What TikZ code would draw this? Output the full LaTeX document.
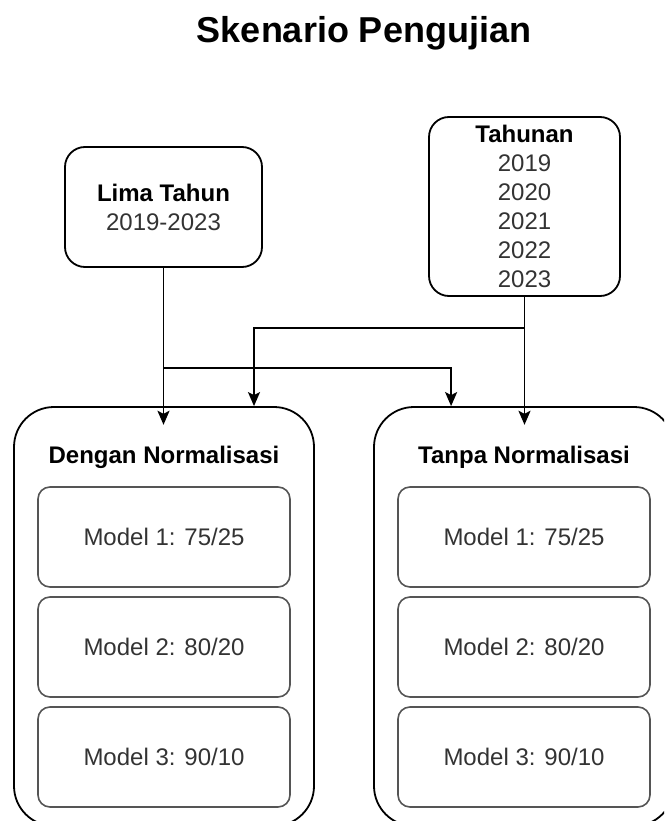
\documentclass[tikz,border=0pt]{standalone}
\usepackage{fontspec}
\setmainfont{Liberation Sans}
\usetikzlibrary{arrows.meta}
\definecolor{boxgray}{HTML}{555555}
\definecolor{txtgray}{HTML}{333333}
\begin{document}
\begin{tikzpicture}[x=1pt,y=-1pt,
  outer/.style={draw=black, line width=1.8pt, rounded corners=40pt,
    minimum width=300pt, minimum height=419pt, inner sep=0pt},
  srcbox/.style={draw=black, line width=1.8pt, rounded corners=20pt,
    align=center, inner sep=0pt, font=\fontsize{24}{29}\selectfont},
  model/.style={draw=boxgray, line width=1.6pt, rounded corners=12pt,
    minimum width=252pt, minimum height=100pt, inner sep=0pt,
    text=txtgray, font=\fontsize{24}{29}\selectfont},
  header/.style={font=\fontsize{24}{29}\selectfont\bfseries,
    minimum height=64pt, inner sep=0pt},
  conn/.style={line width=1.8pt, -{Stealth[length=14pt,width=12pt,inset=3pt]}}]
\useasboundingbox (0,0) rectangle (664,821);
\clip (0,0) rectangle (664,821);

% title
\node[font=\fontsize{36}{43}\selectfont\bfseries, anchor=base] (title) at (364,43) {Skenario Pengujian};

% data sources
\node[srcbox, minimum width=197pt, minimum height=120pt] (lima) at (163.5,207)
  {\textbf{Lima Tahun}\\\color{txtgray}2019-2023};
\node[srcbox, minimum width=191pt, minimum height=179pt] (tahunan) at (524.5,206.5)
  {\textbf{Tahunan}\\\color{txtgray}2019\\\color{txtgray}2020\\\color{txtgray}2021\\\color{txtgray}2022\\\color{txtgray}2023};

% scenario containers
\node[outer] (dengan) at (164,616.5) {};
\node[outer] (tanpa) at (524,616.5) {};
\node[header] (hdrL) at (164,457) {Dengan Normalisasi};
\node[header] (hdrR) at (524,457) {Tanpa Normalisasi};

% models inside each scenario
\node[model] (mL1) at (164,537) {Model 1: 75/25};
\node[model] (mL2) at (164,647) {Model 2: 80/20};
\node[model] (mL3) at (164,757) {Model 3: 90/10};
\node[model] (mR1) at (524,537) {Model 1: 75/25};
\node[model] (mR2) at (524,647) {Model 2: 80/20};
\node[model] (mR3) at (524,757) {Model 3: 90/10};

% connectors
\path (lima.south) ++(0,100) coordinate (jL);
\path (tahunan.south) ++(0,31) coordinate (jR);
\draw[conn] (lima.south) -- (lima.south |- hdrL.north);
\draw[conn] (tahunan.south) -- (tahunan.south |- hdrR.north);
\draw[conn] (jL) -| ([xshift=78pt]tanpa.north west);
\draw[conn] (jR) -| ([xshift=90pt]dengan.north);
\end{tikzpicture}
\end{document}
